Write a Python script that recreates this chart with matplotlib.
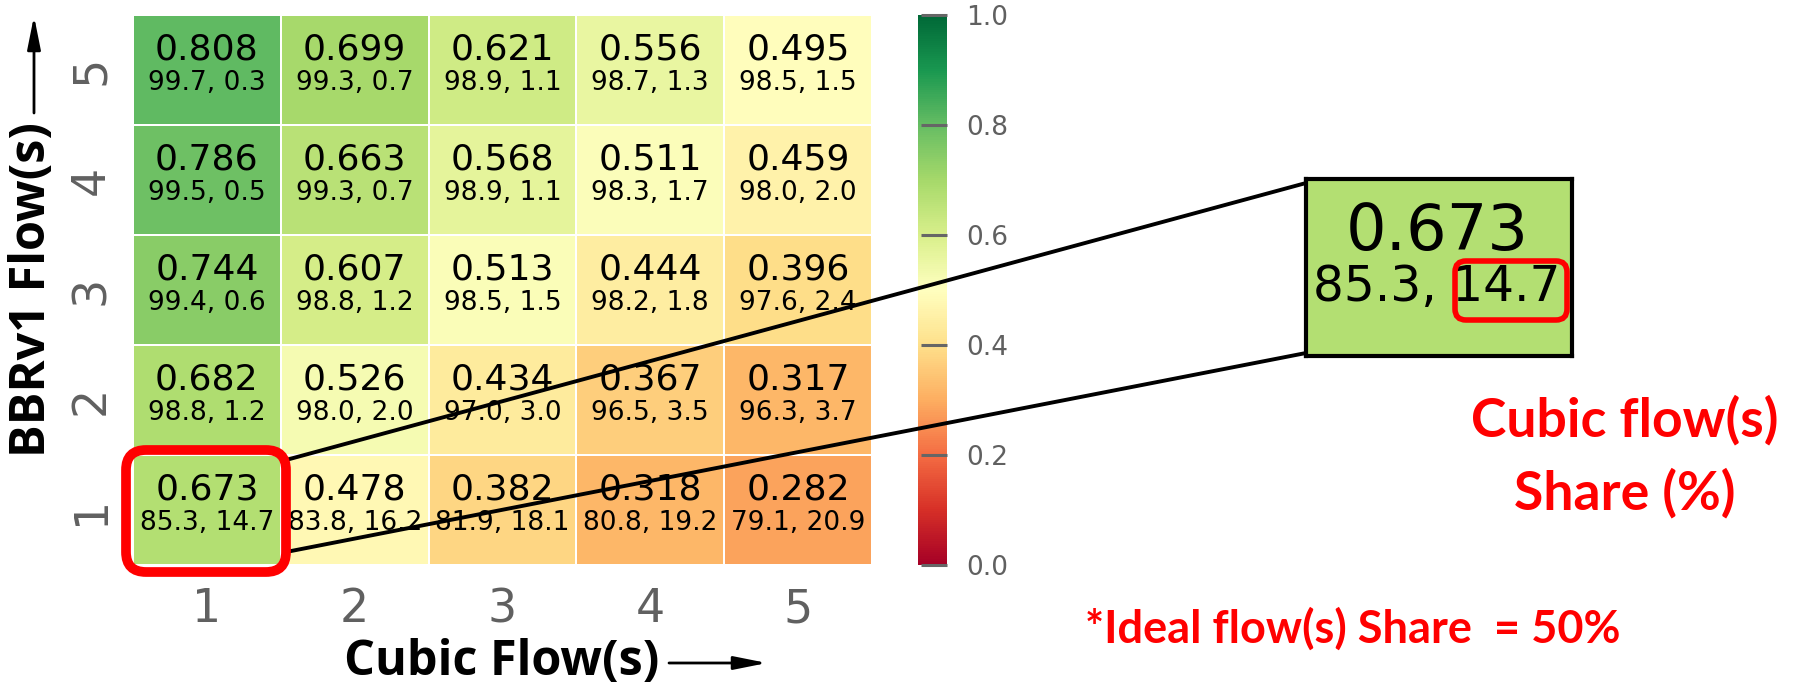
import numpy as np
import matplotlib
matplotlib.use("Agg")
import matplotlib.pyplot as plt
from matplotlib.patches import FancyBboxPatch, FancyArrowPatch
from matplotlib.lines import Line2D
import matplotlib.colors as mcolors

# ---------------- data ----------------
cubic_flows = [1, 2, 3, 4, 5]          # x categories
bbr_flows = [1, 2, 3, 4, 5]            # y categories (bottom -> top)
tick_labels = ["1", "2", "3", "4", "5"]

# fairness index, rows = BBRv1 flows 1..5, cols = Cubic flows 1..5
fairness = [
    [0.673, 0.478, 0.382, 0.318, 0.282],
    [0.682, 0.526, 0.434, 0.367, 0.317],
    [0.744, 0.607, 0.513, 0.444, 0.396],
    [0.786, 0.663, 0.568, 0.511, 0.459],
    [0.808, 0.699, 0.621, 0.556, 0.495],
]
bbr_share = [
    [85.3, 83.8, 81.9, 80.8, 79.1],
    [98.8, 98.0, 97.0, 96.5, 96.3],
    [99.4, 98.8, 98.5, 98.2, 97.6],
    [99.5, 99.3, 98.9, 98.3, 98.0],
    [99.7, 99.3, 98.9, 98.7, 98.5],
]
cubic_share = [
    [14.7, 16.2, 18.1, 19.2, 20.9],
    [1.2, 2.0, 3.0, 3.5, 3.7],
    [0.6, 1.2, 1.5, 1.8, 2.4],
    [0.5, 0.7, 1.1, 1.7, 2.0],
    [0.3, 0.7, 1.1, 1.3, 1.5],
]
cbar_ticks = [0.0, 0.2, 0.4, 0.6, 0.8, 1.0]

# ---------------- figure ----------------
W, H = 1796, 687
DPI = 100
fig = plt.figure(figsize=(W / DPI, H / DPI), dpi=DPI)
fig.patch.set_facecolor("white")

def fx(px):
    return px / W

def fy(py):
    return 1 - py / H

GRAY = "#606060"
cmap = plt.get_cmap("RdYlGn")
norm = mcolors.Normalize(vmin=0, vmax=1)

# heatmap axes
hx0, hx1, hy0, hy1 = 133, 872, 15, 565
ax = fig.add_axes([fx(hx0), fy(hy1), fx(hx1 - hx0), (hy1 - hy0) / H])
F = np.array(fairness)
xe = np.arange(len(cubic_flows) + 1) + 0.5
ye = np.arange(len(bbr_flows) + 1) + 0.5
mesh = ax.pcolormesh(xe, ye, F, cmap=cmap, norm=norm,
                     edgecolors="white", linewidth=1.2)
ax.set_xlim(0.5, 5.5)
ax.set_ylim(0.5, 5.5)
for s in ax.spines.values():
    s.set_visible(False)
ax.set_xticks(cubic_flows)
ax.set_xticklabels(tick_labels)
ax.set_yticks(bbr_flows)
ax.set_yticklabels(tick_labels, rotation=90, va="center")
ax.tick_params(axis="both", length=0, labelsize=33, labelcolor=GRAY)
ax.tick_params(axis="x", pad=16)
ax.tick_params(axis="y", pad=14)

for i, b in enumerate(bbr_flows):
    for j, c in enumerate(cubic_flows):
        ax.text(c, b + 0.186, f"{fairness[i][j]:.3f}", ha="center", va="center",
                fontsize=26, color="black")
        ax.text(c, b - 0.114, f"{bbr_share[i][j]:.1f}, {cubic_share[i][j]:.1f}",
                ha="center", va="center", fontsize=19, color="black")

# colorbar
cax = fig.add_axes([fx(918), fy(565), fx(947 - 918), (565 - 15) / H])
cb = fig.colorbar(mesh, cax=cax, ticks=cbar_ticks)
cb.outline.set_visible(False)
cb.ax.set_yticklabels([f"{t:.1f}" for t in cbar_ticks])
cax.tick_params(direction="in", length=19, width=2.2, color="#666666",
                labelsize=19, labelcolor=GRAY, pad=14)

# axis labels
lab_font = ["Open Sans", "DejaVu Sans"]
fig.text(fx(344), fy(662), "Cubic Flow(s)", fontsize=35, fontweight="bold",
         family=lab_font, ha="left", va="center", color="black")
fig.text(fx(33), fy(290), "BBRv1 Flow(s)", fontsize=35, fontweight="bold",
         family=lab_font, ha="center", va="center", rotation=90, color="black")

arrow_kw = dict(arrowstyle="-|>,head_length=1.0,head_width=0.2",
                lw=2.0, color="black", mutation_scale=20,
                shrinkA=0, shrinkB=0)
fig.add_artist(FancyArrowPatch(
    (669 / DPI, (H - 663) / DPI), (767 / DPI, (H - 663) / DPI),
    transform=fig.dpi_scale_trans, **arrow_kw))
fig.add_artist(FancyArrowPatch(
    (34 / DPI, (H - 113) / DPI), (34 / DPI, (H - 16) / DPI),
    transform=fig.dpi_scale_trans, **arrow_kw))

# zoom inset
ix0, ix1, iy0, iy1 = 1306, 1572, 179, 356
iax = fig.add_axes([fx(ix0), fy(iy1), fx(ix1 - ix0), (iy1 - iy0) / H])
iax.set_facecolor(cmap(norm(fairness[0][0])))
iax.set_xticks([])
iax.set_yticks([])
for s in iax.spines.values():
    s.set_linewidth(3.0)
    s.set_color("black")
iax.text(0.4925, 0.70, f"{fairness[0][0]:.3f}", transform=iax.transAxes,
         ha="center", va="center", fontsize=46, color="black")
iax.text(0.4925, 0.39, f"{bbr_share[0][0]:.1f}, {cubic_share[0][0]:.1f}",
         transform=iax.transAxes, ha="center", va="center", fontsize=35,
         color="black")

def px_line(p0, p1, lw=2.8):
    fig.add_artist(Line2D([p0[0] / DPI, p1[0] / DPI],
                          [(H - p0[1]) / DPI, (H - p1[1]) / DPI],
                          transform=fig.dpi_scale_trans, color="black",
                          lw=lw, zorder=5, solid_capstyle="butt"))

px_line((286, 460), (1306, 183))
px_line((286, 552), (1306, 353))

def red_box(x0, y0, x1, y1, r, lw):
    p = FancyBboxPatch((x0 / DPI, (H - y1) / DPI), (x1 - x0) / DPI, (y1 - y0) / DPI,
                       boxstyle=f"round,pad=0,rounding_size={r / DPI}",
                       transform=fig.dpi_scale_trans, fill=False,
                       edgecolor="#ff0000", lw=lw, zorder=6)
    fig.add_artist(p)

red_box(126, 450, 286, 572, 20, 7.0)
red_box(1455, 261, 1567, 320, 11, 4.0)

red_font = ["Lato", "DejaVu Sans"]
fig.text(fx(1625), fy(420), "Cubic flow(s)", fontsize=38.5, fontweight="bold",
         family=red_font, color="#ff0000", ha="center", va="center")
fig.text(fx(1625), fy(493), "Share (%)", fontsize=38.5, fontweight="bold",
         family=red_font, color="#ff0000", ha="center", va="center")
fig.text(fx(1085), fy(629), "*Ideal flow(s) Share  = 50%", fontsize=32.5,
         fontweight="bold", family=red_font, color="#ff0000",
         ha="left", va="center")

fig.savefig("out.png", dpi=DPI)
